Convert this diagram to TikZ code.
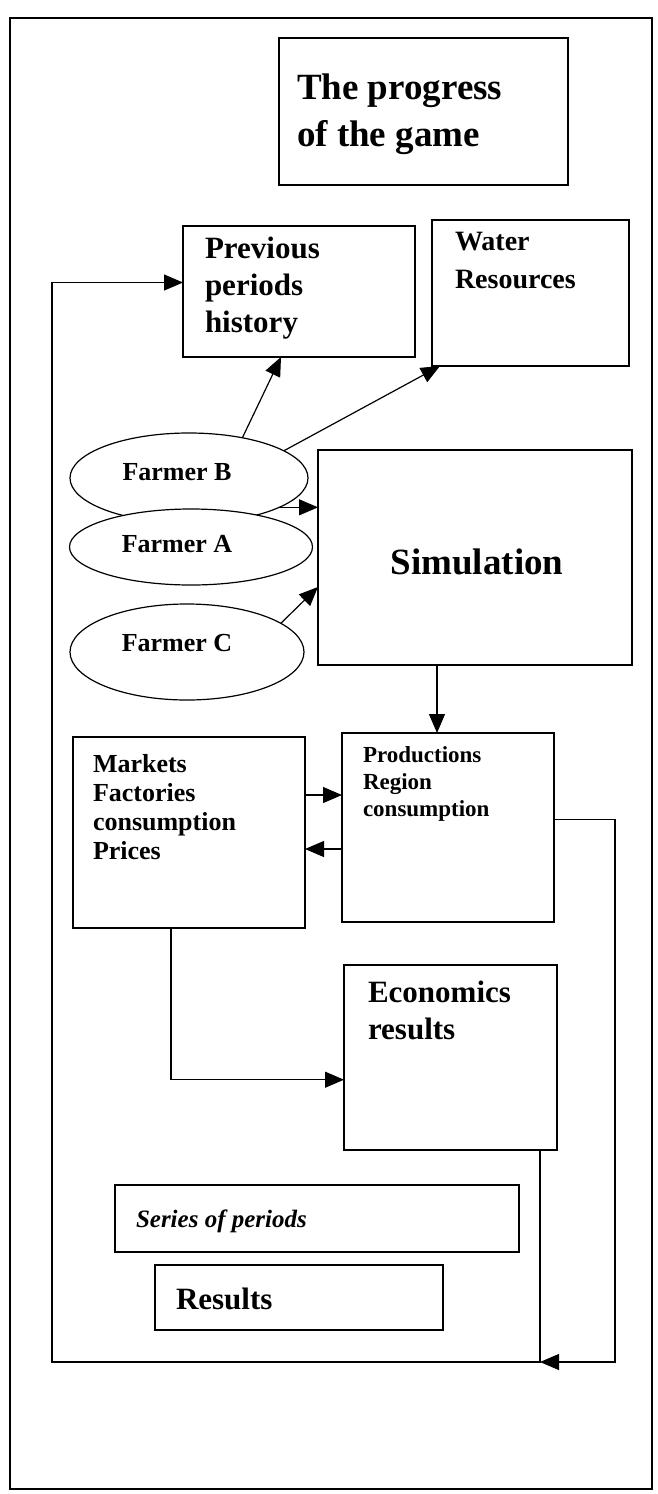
\documentclass[tikz,border=0pt]{standalone}
\usepackage{fontspec}
\setmainfont{Liberation Serif}
\usetikzlibrary{arrows.meta,shapes.geometric,calc}
\begin{document}
\begin{tikzpicture}[x=1pt,y=-1pt,
  line width=1.2pt,
  box/.style={draw, rectangle, anchor=north west, inner sep=0pt, outer sep=0pt},
  oval/.style={draw, ellipse, fill=white, inner sep=0pt, outer sep=0pt},
  txt/.style={inner sep=0pt, outer sep=0pt, align=left},
  arr/.style={-{Triangle[length=19pt,width=16pt]}},
  fs/.style 2 args={font=\fontsize{#1}{#2}\selectfont\bfseries}
]
\useasboundingbox (0,0) rectangle (657,1494);
\fill[white] (0,0) rectangle (657,1494);
% outer frame
\draw (10,18) rectangle (652,1489);

% boxes
\node[box, minimum width=289pt, minimum height=147pt] (title) at (279,38) {};
\node[txt, anchor=north west, fs={37}{47}] (titletxt) at (297,74) {The progress\\of the game};

\node[box, minimum width=232pt, minimum height=131pt] (prev) at (183,226) {};
\node[txt, anchor=north west, fs={31}{37}] (prevtxt) at (205,237) {Previous\\periods\\history};

\node[box, minimum width=197pt, minimum height=146pt] (water) at (432,220) {};
\node[txt, anchor=north west, fs={28}{38}] (watertxt) at (455,232) {Water\\Resources};

\node[box, minimum width=314pt, minimum height=215pt] (sim) at (318,450) {};
\node[txt, anchor=center, fs={37}{44}] (simtxt) at (477,562) {Simulation};

% farmers
\node[oval, minimum width=238pt, minimum height=90pt] (fB) at (189,478) {};
\node[txt, anchor=center, fs={26}{30}] (tB) at (177,472) {Farmer B};
\node[oval, minimum width=243pt, minimum height=76pt] (fA) at (191,547) {};
\node[txt, anchor=center, fs={26}{30}] (tA) at (177,544) {Farmer A};
\node[oval, minimum width=234pt, minimum height=96pt] (fC) at (187,652) {};
\node[txt, anchor=center, fs={26}{30}] (tC) at (177,643) {Farmer C};

\node[box, minimum width=232pt, minimum height=191pt] (mkt) at (73,737) {};
\node[txt, anchor=north west, fs={26}{29}] (mkttxt) at (93,754) {Markets\\Factories\\consumption\\Prices};

\node[box, minimum width=212pt, minimum height=189pt] (prod) at (342,733) {};
\node[txt, anchor=north west, fs={23}{27}] (prodtxt) at (363,747) {Productions\\Region\\consumption};

\node[box, minimum width=213pt, minimum height=185pt] (econ) at (344,965) {};
\node[txt, anchor=north west, fs={31}{37}] (econtxt) at (368,981) {Economics\\results};

\node[box, minimum width=404pt, minimum height=67pt] (series) at (115,1185) {};
\node[txt, anchor=base west, font=\fontsize{25}{30}\selectfont\bfseries\itshape] (seriestxt) at (136,1227) {Series of periods};

\node[box, minimum width=288pt, minimum height=65pt] (res) at (155,1265) {};
\node[txt, anchor=base west, fs={31}{37}] (restxt) at (176,1309) {Results};

% connectors
\draw[arr] (fB.37) -- ([xshift=98pt]prev.south west);
\draw[arr] (fB.16) -- ([xshift=8pt]water.south west);
\draw[arr] (fB.-18) -- (fB.-18 -| sim.west);
\draw[arr] (fC.17.5) -- ($(sim.north west)!0.637!(sim.south west)$);
\draw[arr] ([xshift=-38pt]sim.south) -- ([xshift=-38pt]sim.south |- prod.north);
\draw[arr] (mkt.east |- 0,795) -- (prod.west |- 0,795);
\draw[arr] (prod.west |- 0,849) -- (mkt.east |- 0,849);
\draw[arr] ([xshift=98pt]mkt.south west) |- ($(econ.north west)!0.62!(econ.south west)$);

\coordinate (join) at (540,1362);
\coordinate (bl) at (52,1362);
\coordinate (rc) at (615,1362);
\draw[arr] (econ.south -| join) -- (join) -- (bl) |- ([yshift=9pt]prev.west);
\draw[arr] ([yshift=8pt]prod.east) -| (rc) -- (join);
\end{tikzpicture}
\end{document}
